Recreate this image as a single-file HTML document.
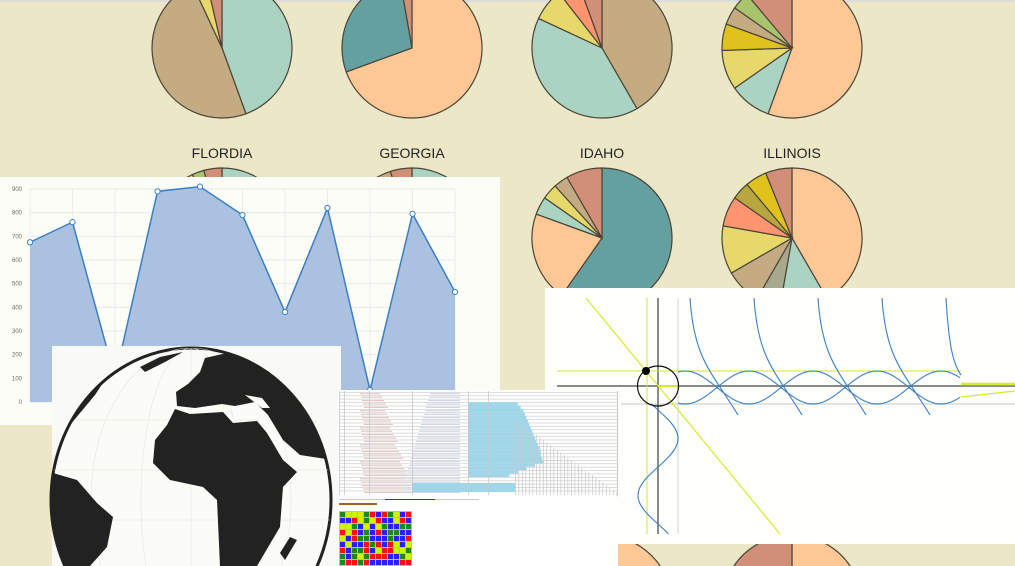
<!DOCTYPE html>
<html><head><meta charset="utf-8">
<style>
html,body{margin:0;padding:0;background:#ece8c7;width:1015px;height:566px;overflow:hidden;}
#root{position:relative;width:1015px;height:566px;overflow:hidden;background:#ece8c7;font-family:"Liberation Sans",sans-serif;}
svg{position:absolute;left:0;top:0;display:block;}
</style></head>
<body>
<div id="root">
<svg id="s" width="1015" height="566" viewBox="0 0 1015 566">
  <rect x="0" y="0" width="1015" height="2" fill="#dcdcdc"/>
  <g id="pies"></g>
  <g font-size="14" fill="#222" text-anchor="middle">
    <text x="222" y="158">FLORDIA</text>
    <text x="412" y="158">GEORGIA</text>
    <text x="602" y="158">IDAHO</text>
    <text x="792" y="158">ILLINOIS</text>
  </g>

  <g>
    <rect x="0" y="177" width="500" height="248" fill="#fdfdf8"/>
    <g id="agrid"></g>
    <path id="afill" fill="#aac2df"/>
    <path id="aline" fill="none" stroke="#3a7fc4" stroke-width="1.5"/>
    <g id="apts"></g>
    <g id="aticks" font-size="6" fill="#666" text-anchor="end"></g>
  </g>

  <g>
    <rect x="52" y="346" width="289" height="220" fill="#f9f9f5"/>
    <clipPath id="gc"><ellipse cx="191" cy="500" rx="140" ry="152"/></clipPath>
    <ellipse cx="191" cy="500" rx="140" ry="152" fill="#fbfbf7" stroke="#222" stroke-width="3"/>
    <g clip-path="url(#gc)" fill="#222">
      <g stroke="#e6e6e0" stroke-width="0.6" fill="none">
        <ellipse cx="191" cy="500" rx="100" ry="152"/><ellipse cx="191" cy="500" rx="50" ry="152"/>
        <line x1="191" y1="340" x2="191" y2="566"/><line x1="40" y1="470" x2="340" y2="470"/><line x1="40" y1="420" x2="340" y2="420"/><line x1="40" y1="520" x2="340" y2="520"/>
      </g>
      <polygon points="200,372 205,358 240,350 290,362 318,395 333,460 300,455 283,440 268,415 255,402 235,406 222,404 195,408 177,406 176,392 188,384"/>
      <polygon points="175,409 190,414 223,412 233,423 257,421 267,433 283,460 297,472 283,487 280,527 257,566 220,566 217,500 203,487 170,480 153,463 155,440 167,425"/>
      <polygon points="258,415 264,413 285,452 280,455" fill="#fbfbf7"/>
      <polygon points="245,395 262,398 270,408 262,408" fill="#fbfbf7"/>
      <polygon points="40,465 53,473 77,480 97,503 113,517 107,547 90,566 40,566"/>
      <polygon points="140,367 160,357 183,352 165,362 145,372"/>
      <polygon points="60,420 85,392 110,372 95,395 70,425"/>
      <polygon points="290,537 297,540 285,560 280,553"/>
    </g>
  </g>

  <g>
    <rect x="545" y="288" width="470" height="256" fill="#fefefb"/>
    <line x1="678" y1="298" x2="678" y2="534" stroke="#e2e2e2" stroke-width="1.5"/>
    <line x1="621" y1="404" x2="1015" y2="404" stroke="#e2e2e2" stroke-width="2"/>
    <line x1="557" y1="386" x2="1015" y2="386" stroke="#8a8a8a" stroke-width="2"/>
    <line x1="658" y1="298" x2="658" y2="534" stroke="#8a8a8a" stroke-width="2"/>
    <line x1="647" y1="298" x2="647" y2="534" stroke="#d4ea2c" stroke-width="1"/>
    <line x1="557" y1="371" x2="961" y2="371" stroke="#d4ea2c" stroke-width="1"/>
    <line x1="586" y1="298" x2="780" y2="534" stroke="#d4ea2c" stroke-width="1.2"/>
    <line x1="961" y1="384" x2="1015" y2="384" stroke="#d4ea2c" stroke-width="2.5"/>
    <line x1="961" y1="397" x2="1015" y2="391" stroke="#d4ea2c" stroke-width="1.2"/>
    <line x1="658" y1="386" x2="678" y2="386" stroke="#d4ea2c" stroke-width="2"/>
    <g id="trig" fill="none" stroke="#3a7fc4" stroke-width="1.1"></g>
    <ellipse cx="658" cy="386" rx="20.5" ry="20" fill="none" stroke="#111" stroke-width="1.2"/>
    <circle cx="646" cy="371" r="4" fill="#000"/>
  </g>

  <g>
    <rect x="338" y="390" width="280" height="176" fill="#fefefe"/>
    <g id="tbl"></g>
    <rect x="339" y="499" width="140" height="1" fill="#c7c7d7"/>
    <rect x="385" y="499" width="50" height="1" fill="#3030d0"/>
    <rect x="339" y="503" width="38" height="2" fill="#a06020"/>
    <g id="mosaic"></g>
  </g>
</svg>
</div>
<script>
var NS="http://www.w3.org/2000/svg";
function mk(tag,attrs,parent){var e=document.createElementNS(NS,tag);for(var k in attrs)e.setAttribute(k,attrs[k]);parent.appendChild(e);return e;}

var pieCenters=[[222,48],[412,48],[602,48],[792,48],[222,238],[412,238],[602,238],[792,238],[602,605],[792,605]];
var pieColors=[
 ["#aad4c1","#c4ab82","#e6d86a","#d28f77"],
 ["#fec896","#65a0a0","#d28f77"],
 ["#c4ab82","#aad4c1","#e6d86a","#fe9570","#d28f77"],
 ["#fec896","#aad4c1","#e6d86a","#dfc21e","#c4ab82","#a9c46c","#d28f77"],
 ["#aad4c1","#c4ab82","#e6d86a","#a9c46c","#d28f77"],
 ["#aad4c1","#fec896","#c4ab82","#d28f77"],
 ["#65a0a0","#fec896","#aad4c1","#e6d86a","#c4ab82","#d28f77"],
 ["#fec896","#aad4c1","#a8a88c","#c4ab82","#e6d86a","#fe9570","#b8a640","#dfc21e","#d28f77"],
 ["#fec896","#c4ab82","#d28f77"],
 ["#fec896","#aad4c1","#d28f77"]];
var pieValues=[
 [160,175,12,13],
 [250,100,10],
 [150,145,27,18,20],
 [200,35,33,22,15,15,40],
 [200,125,10,10,15],
 [180,150,12,18],
 [215,75,15,13,12,30],
 [150,40,20,30,40,25,15,18,22],
 [200,130,30],
 [120,180,60]];
var pg=document.getElementById('pies');
pieValues.forEach(function(vals,p){
  var cx=pieCenters[p][0],cy=pieCenters[p][1],r=70;
  var tot=vals.reduce(function(a,b){return a+b;},0),a0=0;
  var g=mk('g',{},pg);
  
  
  vals.forEach(function(v,i){
    var a1=a0+v/tot*2*Math.PI;
    var x0=cx+r*Math.sin(a0),y0=cy-r*Math.cos(a0),x1=cx+r*Math.sin(a1),y1=cy-r*Math.cos(a1);
    var s=mk('path',{d:'M'+cx+','+cy+'L'+x0+','+y0+'A'+r+','+r+' 0 '+((a1-a0)>Math.PI?1:0)+' 1 '+x1+','+y1+'Z',fill:pieColors[p][i%pieColors[p].length],stroke:'#4a4438','stroke-width':1.2},g);
    
    
    a0=a1;
  });
});

var areaValues=[675,760,100,890,910,790,380,820,50,795,465];
var tickLabels=[0,100,200,300,400,500,600,700,800,900];
var X0=30,X1=455,Y0=402,Y1=189,VMAX=900;
function ax(i){return X0+i*(X1-X0)/(areaValues.length-1);}
function ay(v){return Y0-(v/VMAX)*(Y0-Y1);}
var ag=document.getElementById('agrid'),at=document.getElementById('aticks');
tickLabels.forEach(function(t){
  var l=mk('line',{x1:X0,x2:X1,y1:ay(t),y2:ay(t),stroke:'#e8e8e8','stroke-width':1},ag);
  
  
  var tx=mk('text',{x:22,y:ay(t)+2},at);tx.textContent=t;
  
  
});
for(var i=0;i<areaValues.length;i++){
  var vl=mk('line',{x1:ax(i),x2:ax(i),y1:Y1,y2:Y0,stroke:'#ececec','stroke-width':1},ag);
  
  
}
var d='';areaValues.forEach(function(v,i){d+=(i?'L':'M')+ax(i)+','+ay(v);});
document.getElementById('aline').setAttribute('d',d);
document.getElementById('afill').setAttribute('d',d+'L'+ax(areaValues.length-1)+','+Y0+'L'+X0+','+Y0+'Z');
var ap=document.getElementById('apts');
areaValues.forEach(function(v,i){
  var c=mk('circle',{cx:ax(i),cy:ay(v),r:2.6,fill:'#fff',stroke:'#3a7fc4','stroke-width':1},ap);
  
  
});

var sineStart=[678,961],sinePhase=685,sinePeriod=128,sineMid=387.5,sineAmp=16.5;
var tg=document.getElementById('trig');
function sinePath(shift){var s='';for(var x=sineStart[0];x<=sineStart[1];x+=2){var y=sineMid-sineAmp*Math.cos(2*Math.PI*(x-sinePhase-shift)/sinePeriod);s+=(s?'L':'M')+x+','+y;}return s;}
var c1=mk('path',{d:sinePath(0)},tg);


var c2=mk('path',{d:sinePath(sinePeriod/2)},tg);


var vs='';for(var y=404;y<=534;y+=2){var x=658+20*Math.sin(2*Math.PI*(y-410)/114);vs+=(vs?'L':'M')+x+','+y;}
var c3=mk('path',{d:vs},tg);


var tanStarts=[690,754,818,882,946];
tanStarts.forEach(function(x0,i){
  var p=(i<4)?'M'+x0+',298C'+(x0+4)+',360 '+(x0+22)+',372 '+(x0+48)+',415':'M'+x0+',298C'+(x0+3)+',350 '+(x0+8)+',365 '+(x0+15)+',375';
  var t=mk('path',{d:p},tg);
  
  
});

var tb=document.getElementById('tbl');
var rowCount=30;
var rowDepth=[0,0,0,4,6,8,9,10,11,12,13,14,15,16,17,18,19,20,20,21,22,23,24,25,26,27,28,29,30,30];
for(var r=0;r<rowCount;r++){
  var yy=392+r*3.4;
  var ln=mk('rect',{x:339,y:yy,width:278,height:0.7,fill:'#cfcfcf'},tb);
  
  
  var w=rowDepth[r]*2.4;
  if(r>=3&&r<25){var b=mk('rect',{x:468,y:yy,width:Math.min(44+w*0.6,130)-(r>20?(r-20)*10:0),height:3.4,fill:'#9fd6ea'},tb);
    
    }
  var tx=mk('rect',{x:360+(r%5),y:yy+1.2,width:20+r,height:1.2,fill:'#e3c9c4'},tb);
  
  
  var tx2=mk('rect',{x:430-r,y:yy+1.2,width:30+r,height:1.2,fill:'#d0d6e6'},tb);
  
  
}
var bb=mk('rect',{x:412,y:483,width:103,height:9,fill:'#9fd6ea'},tb);


[339,344,369,412,468,488].forEach(function(x){
  var v=mk('rect',{x:x,y:391,width:0.8,height:104,fill:'#c8c8c8'},tb);
  
  
});
for(var k=0;k<30;k++){
  var sx=515+k*3.5;
  var st=mk('rect',{x:sx,y:420+k*2.5,width:0.7,height:Math.max(75-k*2.5,4),fill:'#c8c8c8'},tb);
  
  
}
var fr=mk('rect',{x:617,y:391,width:1,height:104,fill:'#c8c8c8'},tb);



var mz=document.getElementById('mosaic');
var mcols=['#1a8a1a','#ff1010','#2a20ff','#ccf500'];
var pattern="0123013203120231102331200213322101323012201330211032";
mk('rect',{x:339,y:511,width:73,height:55,fill:'#bbbbbb'},mz);
for(var rr=0;rr<9;rr++)for(var cc=0;cc<12;cc++){
  var ci=parseInt(pattern[(rr*7+cc*3+rr*cc)%pattern.length]);
  var m=mk('rect',{x:340+cc*6,y:512+rr*6,width:5,height:5,fill:mcols[ci]},mz);
  
  
}
</script>
</body></html>
